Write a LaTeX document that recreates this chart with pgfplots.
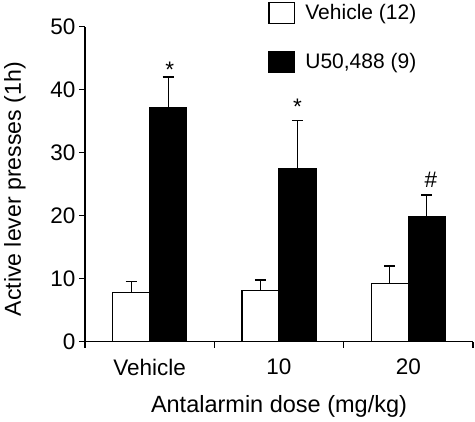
\documentclass[border=0pt]{standalone}
\usepackage{pgfplots}
\pgfplotsset{compat=1.18}
\usepackage{fontspec}
\setmainfont{Liberation Sans}
\begin{document}
\begin{tikzpicture}
\useasboundingbox (0,0) rectangle (475pt,422pt);
\begin{axis}[
  at={(85pt,80.3pt)}, anchor=south west,
  scale only axis, width=388pt, height=315pt,
  xmin=0, xmax=3, ymin=0, ymax=50,
  axis lines=left, axis line style={-, line width=1.3pt},
  clip=false,
  ybar=0pt, bar width=37pt,
  xtick={0,1,2,3}, xticklabels={},
  extra x ticks={0.5,1.5,2.5},
  extra x tick labels={Vehicle,10,20},
  extra x tick style={major tick length=0pt, tick label style={yshift=-14pt}},
  ytick={0,10,20,30,40,50},
  tick align=outside, major tick length=6pt,
  tick style={line width=1.3pt, black},
  /pgf/number format/assume math mode=true,
  ticklabel style={font=\fontsize{22.5}{27}\selectfont},
  xlabel={Antalarmin dose (mg/kg)},
  ylabel={Active lever presses (1h)},
  label style={font=\fontsize{23.5}{28}\selectfont},
  xlabel style={at={(axis description cs:0.5,-0.2263)}, anchor=base},
  ylabel style={at={(axis description cs:-0.165,0.484)}, anchor=base, font=\fontsize{23.1}{28}\selectfont},
  legend style={at={(axis description cs:0.4724,1.0794)}, anchor=north west, draw=none, fill=none, inner sep=0pt, row sep=27pt, column sep=8pt, font=\fontsize{21}{25}\selectfont, cells={anchor=west}},
  legend image code/.code={\draw[#1] (0pt,-10.7pt) rectangle (25.7pt,10.3pt);},
  error bars/y dir=plus, error bars/y explicit,
  error bars/error bar style={line width=1.3pt, black},
  error bars/error mark options={rotate=90, line width=1.3pt, black, mark size=5.5pt},
]
\addplot[fill=white, draw=black, line width=1.2pt] coordinates {(0.5,7.8) +- (0,1.7) (1.5,8.1) +- (0,1.7) (2.5,9.3) +- (0,2.7)};
\addlegendentry{Vehicle (12)}
\addplot[fill=black, draw=black, line width=1.2pt] coordinates {(0.5,37.1) +- (0,4.9) (1.5,27.5) +- (0,7.6) (2.5,19.9) +- (0,3.4)};
\addlegendentry{U50,488 (9)}
\node[font=\fontsize{22.5}{27}\selectfont, anchor=base] at (axis cs:0.5,42.0) [xshift=20pt] {*};
\node[font=\fontsize{22.5}{27}\selectfont, anchor=base] at (axis cs:1.5,36.0) [xshift=18.5pt] {*};
\node[font=\fontsize{22.5}{27}\selectfont, anchor=base] at (axis cs:2.5,24.55) [xshift=22.5pt] {\#};
\end{axis}
\end{tikzpicture}
\end{document}
